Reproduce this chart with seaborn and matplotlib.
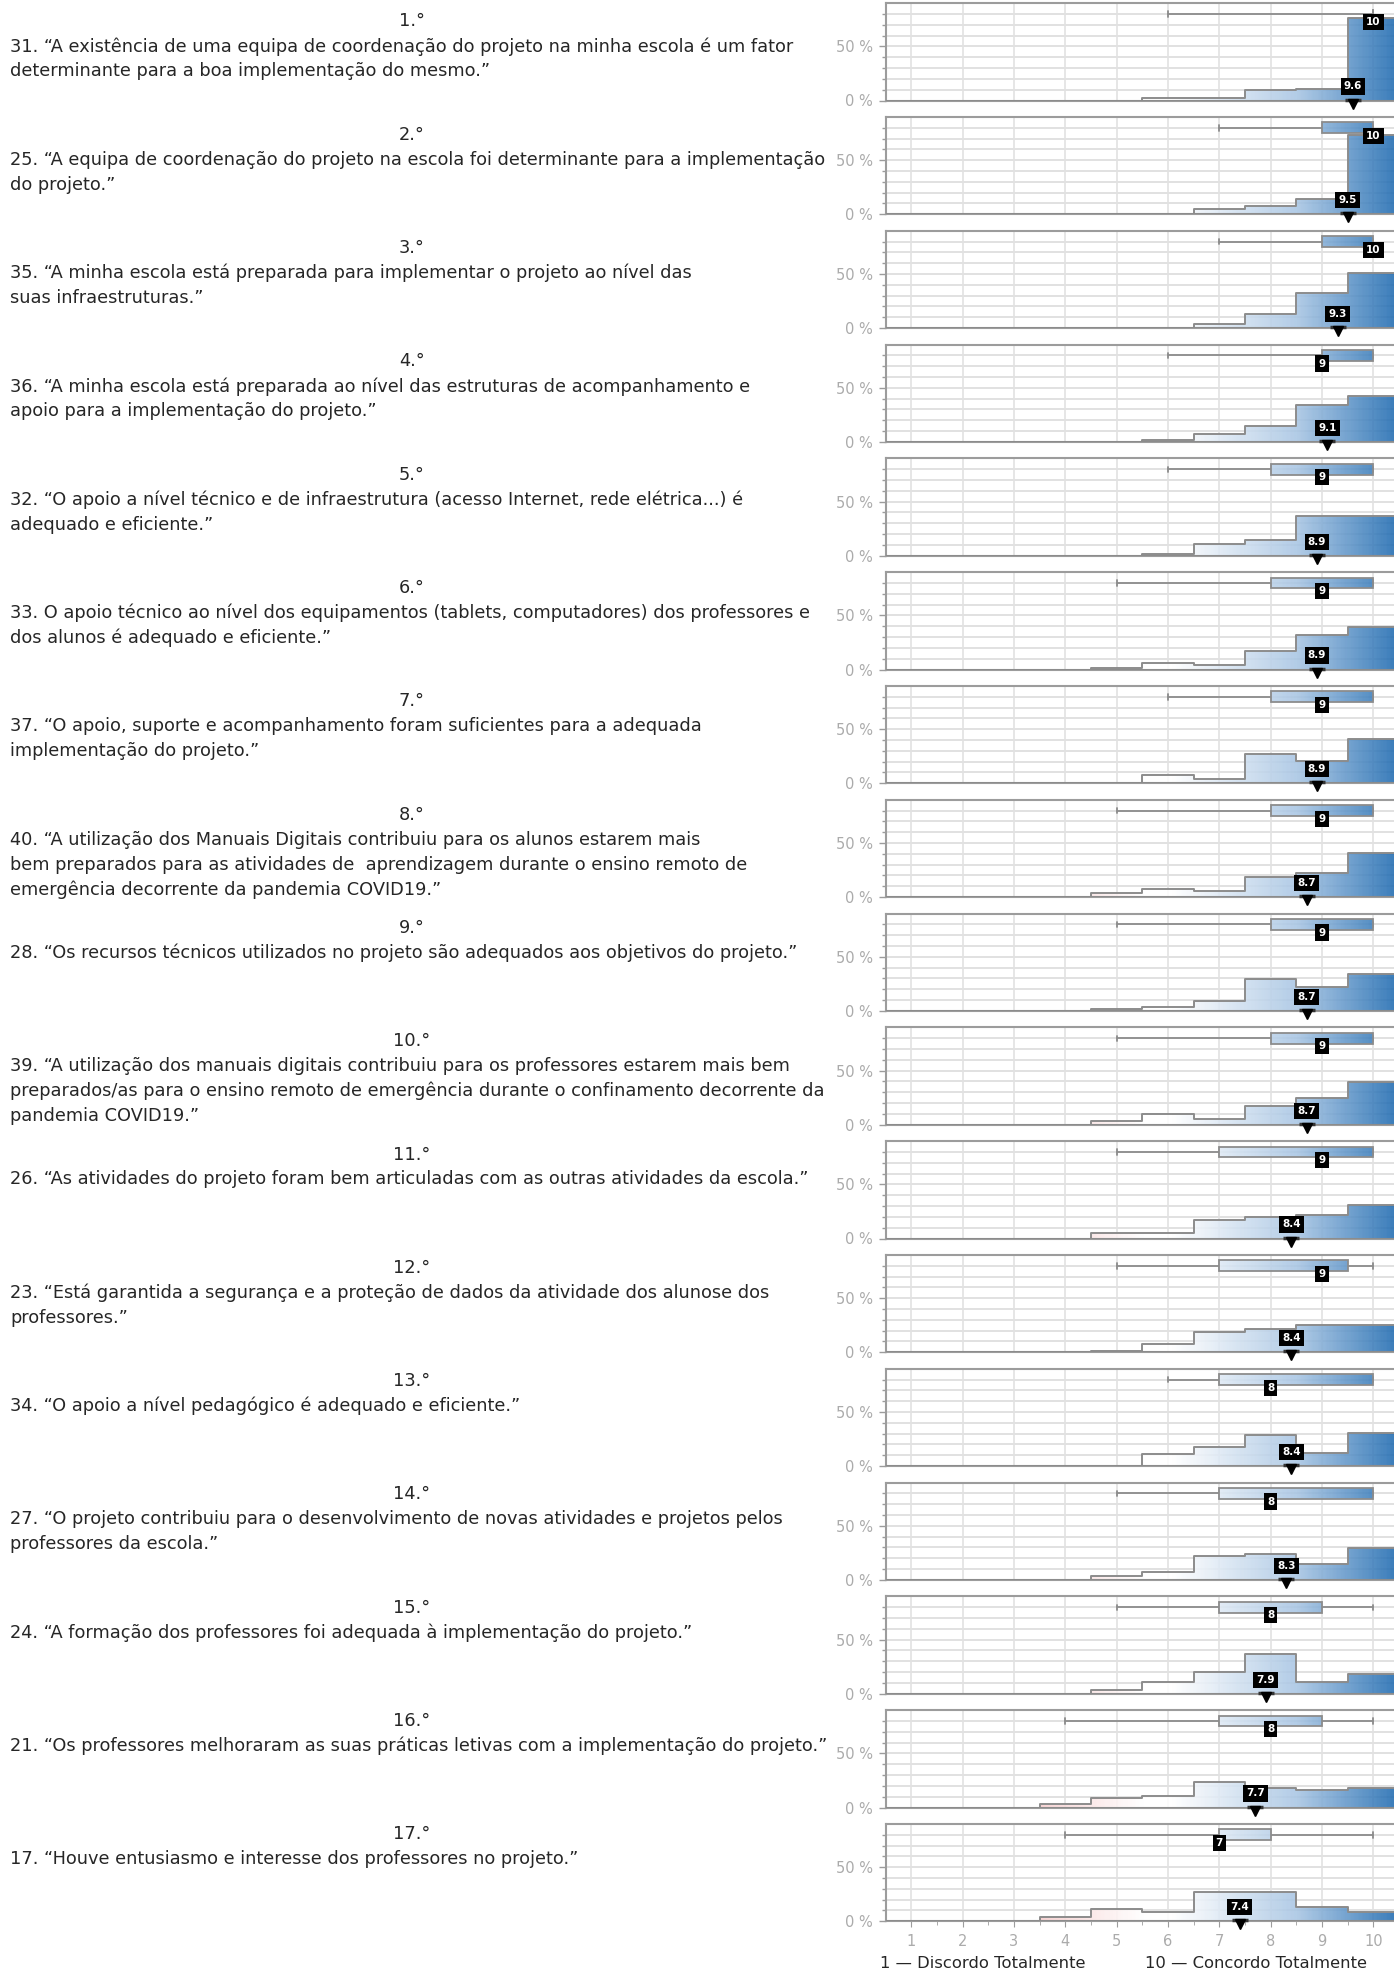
import numpy as np
import pandas as pd
import matplotlib
matplotlib.use("Agg")
import matplotlib.pyplot as plt
import seaborn as sns
from matplotlib.colors import LinearSegmentedColormap, Normalize

# ---------------------------------------------------------------------
# Dados
# ---------------------------------------------------------------------
pontuacoes = [1, 2, 3, 4, 5, 6, 7, 8, 9, 10]

titulos = ["1.°", "2.°", "3.°", "4.°", "5.°", "6.°", "7.°", "8.°", "9.°",
           "10.°", "11.°", "12.°", "13.°", "14.°", "15.°", "16.°", "17.°"]

perguntas = [
    ["31. “A existência de uma equipa de coordenação do projeto na minha escola é um fator",
     "determinante para a boa implementação do mesmo.”"],
    ["25. “A equipa de coordenação do projeto na escola foi determinante para a implementação",
     "do projeto.”"],
    ["35. “A minha escola está preparada para implementar o projeto ao nível das",
     "suas infraestruturas.”"],
    ["36. “A minha escola está preparada ao nível das estruturas de acompanhamento e",
     "apoio para a implementação do projeto.”"],
    ["32. “O apoio a nível técnico e de infraestrutura (acesso Internet, rede elétrica...) é",
     "adequado e eficiente.”"],
    ["33. O apoio técnico ao nível dos equipamentos (tablets, computadores) dos professores e",
     "dos alunos é adequado e eficiente.”"],
    ["37. “O apoio, suporte e acompanhamento foram suficientes para a adequada",
     "implementação do projeto.”"],
    ["40. “A utilização dos Manuais Digitais contribuiu para os alunos estarem mais",
     "bem preparados para as atividades de  aprendizagem durante o ensino remoto de",
     "emergência decorrente da pandemia COVID19.”"],
    ["28. “Os recursos técnicos utilizados no projeto são adequados aos objetivos do projeto.”"],
    ["39. “A utilização dos manuais digitais contribuiu para os professores estarem mais bem",
     "preparados/as para o ensino remoto de emergência durante o confinamento decorrente da",
     "pandemia COVID19.”"],
    ["26. “As atividades do projeto foram bem articuladas com as outras atividades da escola.”"],
    ["23. “Está garantida a segurança e a proteção de dados da atividade dos alunose dos",
     "professores.”"],
    ["34. “O apoio a nível pedagógico é adequado e eficiente.”"],
    ["27. “O projeto contribuiu para o desenvolvimento de novas atividades e projetos pelos",
     "professores da escola.”"],
    ["24. “A formação dos professores foi adequada à implementação do projeto.”"],
    ["21. “Os professores melhoraram as suas práticas letivas com a implementação do projeto.”"],
    ["17. “Houve entusiasmo e interesse dos professores no projeto.”"],
]

# percentagem de respostas por pontuação (1..10)
percentagens = [
    [0, 0, 0, 0, 0, 1.9, 1.9, 9.3, 10.8, 76.1],
    [0, 0, 0, 0, 0, 0, 5.2, 7.4, 14.5, 72.9],
    [0, 0, 0, 0, 0, 0, 3.7, 12.9, 32.5, 50.9],
    [0, 0, 0, 0, 0, 1.5, 7.0, 14.4, 34.4, 42.7],
    [0, 0, 0, 0, 0, 1.5, 10.7, 14.7, 36.5, 36.6],
    [0, 0, 0, 0, 1.2, 5.8, 4.3, 16.9, 32.3, 39.5],
    [0, 0, 0, 0, 0, 7.5, 4.0, 27.0, 20.2, 41.3],
    [0, 0, 0, 0, 4.2, 7.8, 5.9, 18.8, 22.4, 40.9],
    [0, 0, 0, 0, 1.8, 3.7, 9.2, 29.1, 21.8, 34.4],
    [0, 0, 0, 0, 3.7, 9.5, 5.5, 16.9, 24.5, 39.9],
    [0, 0, 0, 0, 5.4, 5.4, 16.7, 20.3, 21.6, 30.6],
    [0, 0, 0, 0, 1.5, 7.6, 18.4, 22.0, 25.3, 25.2],
    [0, 0, 0, 0, 0, 11.0, 17.4, 28.7, 12.3, 30.6],
    [0, 0, 0, 0, 3.4, 7.2, 21.8, 23.6, 14.6, 29.4],
    [0, 0, 0, 0, 3.7, 11.0, 20.3, 36.4, 10.7, 17.9],
    [0, 0, 0, 3.5, 9.1, 10.9, 23.8, 18.2, 16.3, 18.2],
    [0, 0, 0, 3.7, 11.1, 8.9, 27.2, 27.2, 13.0, 8.9],
]

# caixa de bigodes: mínimo, Q1, mediana, Q3, máximo
bigode_min = [6, 7, 7, 6, 6, 5, 6, 5, 5, 5, 5, 5, 6, 5, 5, 4, 4]
q1 = [10, 9, 9, 9, 8, 8, 8, 8, 8, 8, 7, 7, 7, 7, 7, 7, 7]
mediana = [10, 10, 10, 9, 9, 9, 9, 9, 9, 9, 9, 9, 8, 8, 8, 8, 7]
q3 = [10, 10, 10, 10, 10, 10, 10, 10, 10, 10, 10, 9.5, 10, 10, 9, 9, 8]
bigode_max = [10, 10, 10, 10, 10, 10, 10, 10, 10, 10, 10, 10, 10, 10, 10, 10, 10]
media = [9.6, 9.5, 9.3, 9.1, 8.9, 8.9, 8.9, 8.7, 8.7, 8.7, 8.4, 8.4, 8.4, 8.3, 7.9, 7.7, 7.4]

# ---------------------------------------------------------------------
# Estilo
# ---------------------------------------------------------------------
sns.set_style("white")
plt.rcParams['font.family'] = ['DejaVu Sans']

W, H = 1394, 1970
FS = 12.8
CINZA = '#8c8c8c'
EIXO = '#9c9c9c'
GRELHA = '#e1e1e1'

# gradiente vermelho -> branco -> azul ao longo do eixo x
cmap = LinearSegmentedColormap.from_list(
    "grad", [(0.0, '#ee8a8a'), (0.5, '#ffffff'), (0.56, '#ffffff'),
             (0.8, '#a9c6e4'), (1.0, '#1b68af')])
norm = Normalize(0.5, 10.5)
rampa = np.linspace(0.5, 10.5, 400)[None, :]
limites = [k + 0.5 for k in range(0, 11)]

fig = plt.figure(figsize=(W / 100, H / 100), dpi=100)

ax_left = 885.5 / W
ax_w = (W - 885.5) / W
ax_h = 97.3 / H

for i in range(len(percentagens)):
    base = 100.5 + 113.8 * i
    ax = fig.add_axes([ax_left, 1 - base / H, ax_w, ax_h])

    df = pd.DataFrame({"pontuacao": pontuacoes, "pct": percentagens[i]})

    # histograma em escada
    sns.histplot(data=df, x="pontuacao", weights="pct", bins=limites,
                 element='step', fill=True, ax=ax, color=CINZA)
    poly = ax.collections[-1]
    poly.set_facecolor('none')
    poly.set_edgecolor(CINZA)
    poly.set_linewidth(1.4)
    poly.set_zorder(3)

    im = ax.imshow(rampa, extent=(0.5, 10.5, 0, 90), origin='lower', cmap=cmap,
                   norm=norm, aspect='auto', alpha=0.88, zorder=2,
                   interpolation='bilinear')
    im.set_clip_path(poly.get_paths()[0], transform=ax.transData)

    # caixa de bigodes
    stats = [dict(whislo=bigode_min[i], q1=q1[i], med=mediana[i], q3=q3[i],
                  whishi=bigode_max[i], fliers=[])]
    bp = ax.bxp(stats, positions=[80], widths=10, orientation='horizontal',
                patch_artist=True, showfliers=False, capwidths=5,
                boxprops=dict(facecolor='none', edgecolor=CINZA, linewidth=1.3),
                whiskerprops=dict(color=CINZA, linewidth=1.3),
                capprops=dict(color=CINZA, linewidth=1.3),
                medianprops=dict(linewidth=0))
    caixa = bp['boxes'][0]
    caixa.set_zorder(3)
    im2 = ax.imshow(rampa, extent=(0.5, 10.5, 0, 90), origin='lower', cmap=cmap,
                    norm=norm, aspect='auto', alpha=0.88, zorder=2,
                    interpolation='bilinear')
    im2.set_clip_path(caixa)

    # etiquetas da mediana e da média
    ax.text(mediana[i], 72.5, f"{mediana[i]:g}", ha='center', va='center',
            color='white', fontsize=7.5, fontweight='bold', zorder=7,
            bbox=dict(boxstyle='square,pad=0.3', fc='black', ec='none'))
    ax.text(media[i], 13, f"{media[i]:g}", ha='center', va='center',
            color='white', fontsize=7.5, fontweight='bold', zorder=7,
            bbox=dict(boxstyle='square,pad=0.3', fc='black', ec='none'))
    ax.plot([media[i]], [0.8], marker='_', ms=11, mew=2.5, color='#333333',
            clip_on=False, zorder=8)
    ax.plot([media[i]], [-2.8], marker='v', ms=7, color='black',
            clip_on=False, zorder=8)

    # eixos
    ax.set_xlim(0.5, 10.4)
    ax.set_ylim(0, 90)
    ax.set_xlabel("")
    ax.set_ylabel("")
    ax.set_yticks([0, 50])
    ax.set_yticklabels(["0 %", "50 %"])
    ax.set_yticks([10, 20, 30, 40, 60, 70, 80], minor=True)
    ax.set_xticks(pontuacoes)
    ax.grid(True, which='major', axis='x', color=GRELHA, linewidth=1.2)
    ax.grid(True, which='both', axis='y', color=GRELHA, linewidth=1.4)
    ax.tick_params(axis='y', which='major', length=5, width=1, color=EIXO,
                   labelcolor='#ababab', labelsize=10.5, pad=4, left=True)
    ax.tick_params(axis='y', which='minor', length=3, width=1, color=EIXO, left=True)
    for lado in ['left', 'top', 'bottom']:
        ax.spines[lado].set_color(EIXO)
        ax.spines[lado].set_linewidth(1.5)
    ax.spines['right'].set_visible(False)

    if i == len(percentagens) - 1:
        ax.set_xticks(limites[1:-1], minor=True)
        ax.tick_params(axis='x', which='major', length=4, color=EIXO,
                       labelcolor='#ababab', labelsize=10.5, bottom=True, pad=5)
        ax.tick_params(axis='x', which='minor', length=3, color=EIXO, bottom=True)
    else:
        ax.tick_params(axis='x', which='both', length=0, labelbottom=False)

    # texto da pergunta
    ty = 21.5 + 113.3 * i
    fig.text(412 / W, 1 - ty / H, titulos[i], ha='center', va='center', fontsize=FS)
    for j, linha in enumerate(perguntas[i]):
        fig.text(10 / W, 1 - (ty + 25 * (j + 1)) / H, linha, ha='left',
                 va='center', fontsize=FS)

fig.text(880 / W, 1 - 1963 / H, "1 — Discordo Totalmente", ha='left',
         va='center', fontsize=11.8)
fig.text(1145 / W, 1 - 1963 / H, "10 — Concordo Totalmente", ha='left',
         va='center', fontsize=11.8)

fig.savefig("out.png", dpi=100)
